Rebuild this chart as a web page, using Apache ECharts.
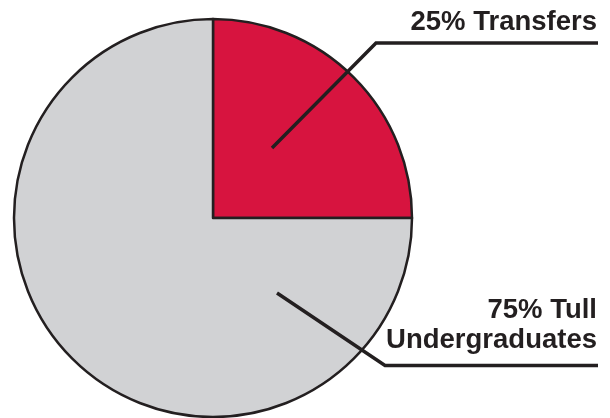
<!DOCTYPE html>
<html>
<head>
<meta charset="utf-8">
<script src="https://cdn.jsdelivr.net/npm/echarts@6/dist/echarts.min.js"></script>
<style>html,body{margin:0;padding:0;background:#fff}#c{width:610px;height:418px}</style>
</head>
<body>
<div id="c"></div>
<script>
const categories = ['Transfers', 'Tull Undergraduates'];
const values = [25, 75];
const labelTexts = ['25% Transfers', '75% Tull\nUndergraduates'];
const colors = ['#D7143F', '#D1D2D4'];

const layouts = [
  { x: 597, y: 22.5, lines: [[272, 148], [376, 43], [598, 43]] },
  { x: 597, y: 325.5, lines: [[277, 293], [385, 365.5], [598, 365.5]] }
];

const graphics = [];
layouts.forEach((l, i) => {
  graphics.push({
    type: 'polyline', z: 100,
    shape: { points: l.lines },
    style: { stroke: '#231f20', lineWidth: 3.5, fill: null }
  });
  graphics.push({
    type: 'text', z: 100,
    style: {
      text: labelTexts[i], x: l.x, y: l.y,
      align: 'right', verticalAlign: 'middle',
      font: 'bold 27.5px "Liberation Sans"', lineHeight: 30,
      fill: '#231f20'
    }
  });
});

const chart = echarts.init(document.getElementById('c'));
chart.setOption({
  animation: false,
  graphic: graphics,
  series: [{
    type: 'pie',
    center: [213, 218],
    radius: 199,
    startAngle: 90,
    clockwise: true,
    emphasis: { disabled: true },
    itemStyle: { borderColor: '#231f20', borderWidth: 2.5 },
    label: { show: false },
    labelLine: { show: false },
    data: categories.map((c, i) => ({ name: c, value: values[i], itemStyle: { color: colors[i] } }))
  }]
});
</script>
</body>
</html>
